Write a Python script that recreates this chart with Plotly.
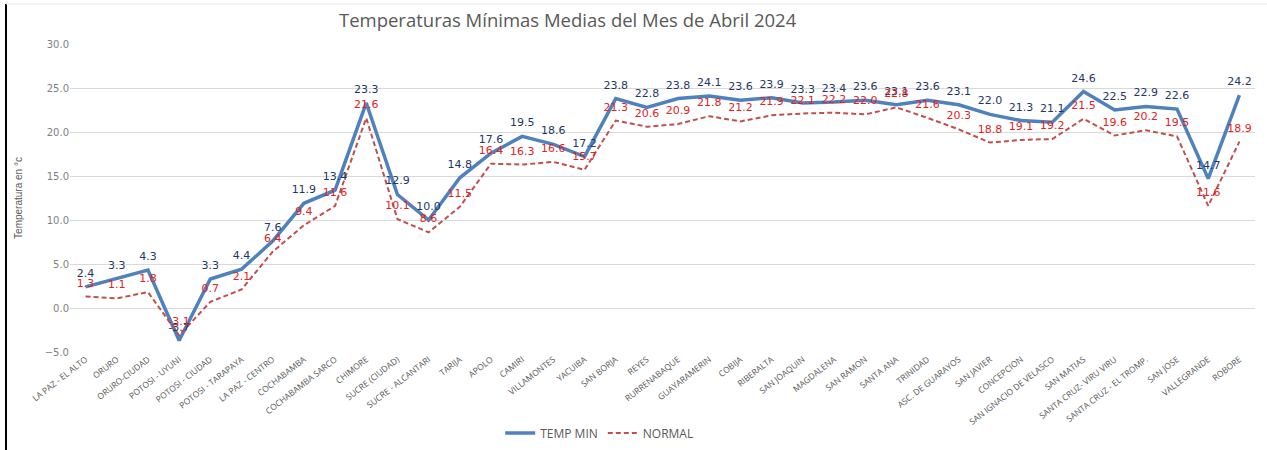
import plotly.graph_objects as go

# Estaciones (eje X)
estaciones = [
    "LA PAZ - EL ALTO", "ORURO", "ORURO-CIUDAD", "POTOSI - UYUNI", "POTOSI - CIUDAD",
    "POTOSI - TARAPAYA", "LA PAZ - CENTRO", "COCHABAMBA", "COCHABAMBA SARCO", "CHIMORE",
    "SUCRE (CIUDAD)", "SUCRE - ALCANTARI", "TARIJA", "APOLO", "CAMIRI", "VILLAMONTES",
    "YACUIBA", "SAN BORJA", "REYES", "RURRENABAQUE", "GUAYARAMERIN", "COBIJA",
    "RIBERALTA", "SAN JOAQUIN", "MAGDALENA", "SAN RAMON", "SANTA ANA", "TRINIDAD",
    "ASC. DE GUARAYOS", "SAN JAVIER", "CONCEPCION", "SAN IGNACIO DE VELASCO",
    "SAN MATIAS", "SANTA CRUZ- VIRU VIRU", "SANTA CRUZ - EL TROMP.", "SAN JOSE",
    "VALLEGRANDE", "ROBORE",
]

# Temperatura minima media abril 2024
temp_min = [
    2.4, 3.3, 4.3, -3.7, 3.3, 4.4, 7.6, 11.9, 13.4, 23.3,
    12.9, 10.0, 14.8, 17.6, 19.5, 18.6, 17.2, 23.8, 22.8, 23.8,
    24.1, 23.6, 23.9, 23.3, 23.4, 23.6, 23.1, 23.6, 23.1, 22.0,
    21.3, 21.1, 24.6, 22.5, 22.9, 22.6, 14.7, 24.2,
]

# Normal climatologica
normal = [
    1.3, 1.1, 1.8, -3.1, 0.7, 2.1, 6.4, 9.4, 11.6, 21.6,
    10.1, 8.6, 11.5, 16.4, 16.3, 16.6, 15.7, 21.3, 20.6, 20.9,
    21.8, 21.2, 21.9, 22.1, 22.2, 22.0, 22.8, 21.6, 20.3, 18.8,
    19.1, 19.2, 21.5, 19.6, 20.2, 19.5, 11.6, 18.9,
]

y_ticks = [-5, 0, 5, 10, 15, 20, 25, 30]

series = [
    ("TEMP MIN", temp_min, dict(color="#4F81BD", width=3.5), "#1F3864"),
    ("NORMAL", normal, dict(color="#C0504D", width=2, dash="5px,3px"), "#E02424"),
]

fig = go.Figure()

for nombre, valores, linea, color_txt in series:
    fig.add_trace(go.Scatter(x=estaciones, y=valores, name=nombre, mode="lines", line=linea))

# etiquetas de datos (marcadores invisibles para separarlas de la linea)
for nombre, valores, linea, color_txt in series:
    fig.add_trace(go.Scatter(
        x=estaciones, y=valores, name=nombre, showlegend=False,
        mode="markers+text",
        marker=dict(size=10, opacity=0),
        text=[f"{v:.1f}" for v in valores],
        textposition="top center",
        textfont=dict(family="DejaVu Sans", size=11, color=color_txt),
    ))

fig.update_layout(
    width=1267, height=450,
    paper_bgcolor="white", plot_bgcolor="white",
    margin=dict(l=70, r=12, t=44, b=98, autoexpand=False),
    title=dict(
        text="Temperaturas Mínimas Medias del Mes de Abril 2024",
        x=0.448, xanchor="center", y=0.955, yanchor="middle",
        font=dict(family="Open Sans", size=18.5, color="#595959"),
    ),
    legend=dict(
        orientation="h", x=0.447, xanchor="center", y=-0.263, yanchor="middle",
        font=dict(family="Open Sans", size=12, color="#595959"),
    ),
    xaxis=dict(
        type="category", range=[-0.5, 37.5], automargin=False,
        tickangle=-38, showgrid=False, showline=False, ticks="",
        tickfont=dict(family="Open Sans", size=8.5, color="#595959"),
    ),
    yaxis=dict(
        range=[-5, 30], tickvals=y_ticks, tickformat=".1f", automargin=False,
        showgrid=True, gridcolor="#D9D9D9", gridwidth=1,
        zeroline=False, showline=False, ticks="",
        tickfont=dict(family="DejaVu Sans", size=10, color="#7F7F7F"),
        title=dict(text="Temperatura en °c", standoff=20,
                   font=dict(family="Liberation Sans Narrow, Liberation Sans", size=10, color="#595959")),
    ),
    shapes=[
        dict(type="line", xref="paper", yref="paper", x0=-0.054, x1=-0.054, y0=1.13, y1=-0.32,
             line=dict(color="black", width=2)),
        dict(type="line", xref="paper", yref="paper", x0=-0.054, x1=1.01, y0=1.13, y1=1.13,
             line=dict(color="#E6E6E6", width=1)),
    ],
)

# quitar el margen por defecto del body para que la figura quede en (0,0)
fig.write_html("out.html", config={"displayModeBar": False},
               post_script="document.body.style.margin='0';")
